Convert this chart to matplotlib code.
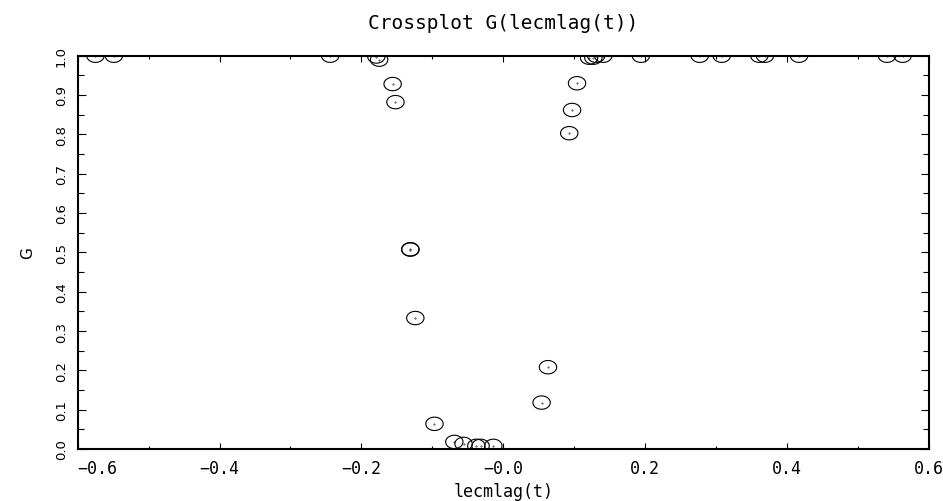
import numpy as np
import matplotlib
matplotlib.use("Agg")
import matplotlib.pyplot as plt
from matplotlib.path import Path
from matplotlib.ticker import MultipleLocator

# crossplot data
lecmlag = [-0.575, -0.549, -0.244, -0.179, -0.175, 0.121, 0.127, 0.131, 0.141,
           0.194, 0.277, 0.308, 0.361, 0.369, 0.417, 0.541, 0.563,
           -0.156, -0.152, 0.104, 0.097, 0.093,
           -0.131, -0.131, -0.124,
           -0.097, -0.069, -0.056, -0.038, -0.032, -0.014,
           0.063, 0.054]
G = [1.0, 1.0, 1.0, 0.998, 0.99, 0.995, 0.995, 1.0, 1.0,
     1.0, 1.0, 1.0, 1.0, 1.0, 1.0, 1.0, 1.0,
     0.928, 0.882, 0.930, 0.862, 0.803,
     0.508, 0.507, 0.333,
     0.064, 0.018, 0.013, 0.008, 0.008, 0.008,
     0.208, 0.118]

# flattened circle marker, like the original plotting package
t = np.linspace(0, 2 * np.pi, 64)
ell = Path(np.column_stack([np.cos(t), 0.77 * np.sin(t)]))

fig = plt.figure(figsize=(9.43, 5.02), dpi=100)
ax = fig.add_axes([0.0824, 0.1036, 0.9026, 0.7834])

sc = ax.scatter(lecmlag, G, marker=ell, s=12.5 ** 2, facecolors="none",
                edgecolors="black", linewidths=0.8)
dots = ax.scatter(lecmlag, G, marker=".", s=0.5, color="black")
sc.set_clip_path(ax.patch)
dots.set_clip_path(ax.patch)

ax.set_xlim(-0.6, 0.6)
ax.set_ylim(0.0, 1.0)
ax.xaxis.set_minor_locator(MultipleLocator(0.1))
ax.yaxis.set_minor_locator(MultipleLocator(0.05))

for s in ax.spines.values():
    s.set_linewidth(1.5)

ax.tick_params(which="both", direction="in", top=True, right=True, width=0.8)
ax.tick_params(axis="x", which="major", length=4.5, pad=7)
ax.tick_params(axis="x", which="minor", length=2.5)
ax.tick_params(axis="y", which="major", length=6, pad=7)
ax.tick_params(axis="y", which="minor", length=4)

ax.set_xticks([-0.6, -0.4, -0.2, 0.0, 0.2, 0.4, 0.6])
ax.set_xticklabels(["\u22120.6", "\u22120.4", "\u22120.2", "\u22120.0", "0.2", "0.4", "0.6"],
                   family="DejaVu Sans Mono", fontsize=12)
ax.set_yticks(np.round(np.arange(0, 1.01, 0.1), 1))
ax.set_yticklabels(["%.1f" % v for v in np.arange(0, 1.01, 0.1)],
                   rotation=90, va="center", fontsize=9.5)

ax.set_xlabel("lecmlag(t)", family="DejaVu Sans Mono", fontsize=12, labelpad=4)
ax.set_ylabel("G", fontsize=11, labelpad=14)
ax.set_title("Crossplot G(lecmlag(t))", family="DejaVu Sans Mono", fontsize=14, pad=20)

fig.canvas.draw()
ax.xaxis.get_major_ticks()[0].label1.set_horizontalalignment("left")

fig.savefig("out.png", dpi=100)
